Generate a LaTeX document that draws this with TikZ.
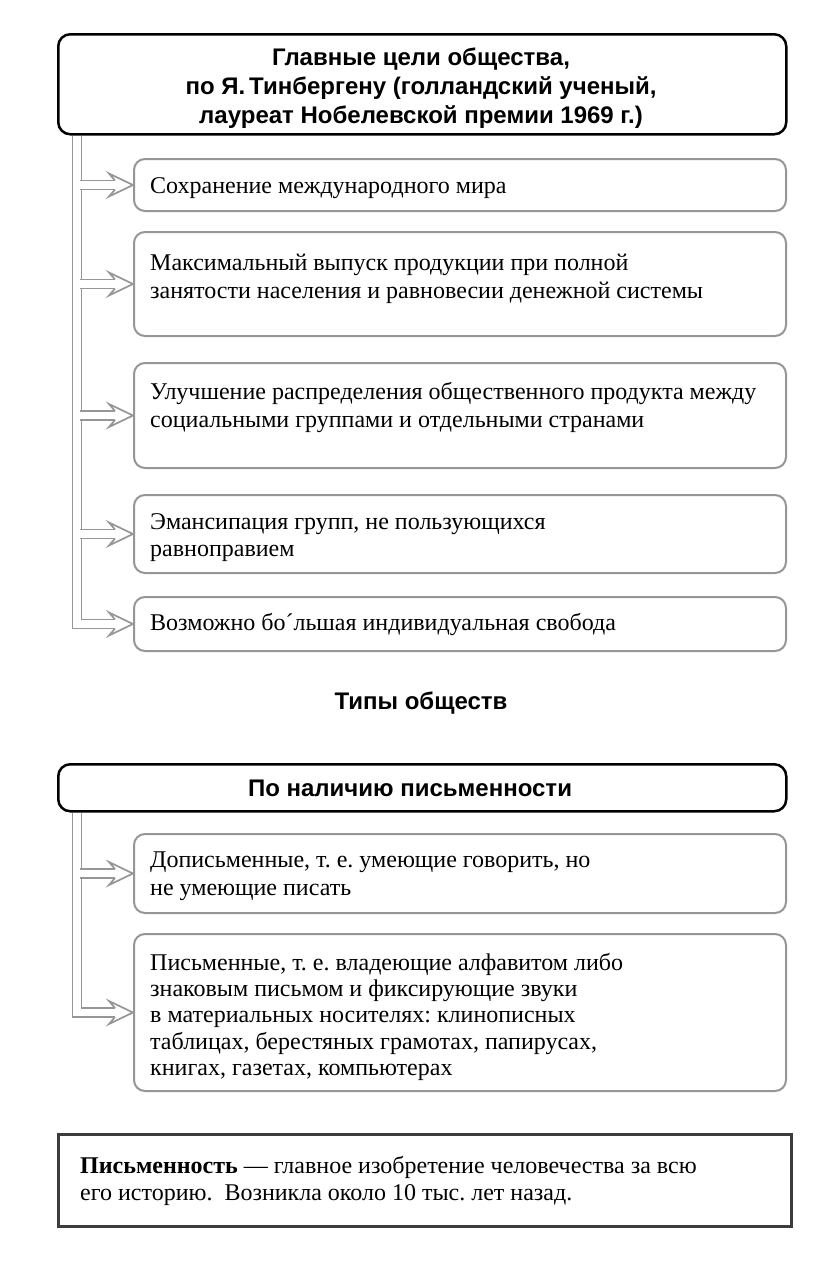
\documentclass[tikz,border=0pt]{standalone}
\usepackage{fontspec}
\setmainfont{Liberation Serif}
\newfontfamily\hsans{Liberation Sans}
\usetikzlibrary{backgrounds}
\frenchspacing
\definecolor{boxgray}{RGB}{150,150,150}
\definecolor{lgray}{RGB}{150,150,150}
\definecolor{dgray}{RGB}{60,60,60}
\tikzset{
  hbox/.style={draw=black, line width=2.5, rounded corners=12, fill=white, inner sep=0, anchor=north west},
  ibox/.style={draw=boxgray, line width=2, rounded corners=11, fill=white, inner sep=0, anchor=north west},
  nbox/.style={draw=dgray, line width=3, fill=white, inner sep=0, anchor=north west},
  htxt/.style={inner sep=0, align=center, font=\hsans\bfseries\fontsize{24}{29}\selectfont},
  itxt/.style={inner sep=0, align=left, anchor=north west, font=\fontsize{24}{28}\selectfont},
  dbl/.style={draw=lgray, line width=1.7, double=white, double distance=7.3},
  headline/.style={draw=lgray, line width=1.7, line join=miter},
}
\newcommand\arrowhead[1]{%
  \fill[white] (#1) ++(-18,-4.5) -- ++(-6,-7) -- (#1) -- ++(-24,11.5) -- ++(6,-7) -- cycle;
  \draw[headline] (#1) ++(-18,-4.5) -- ++(-6,-7) -- (#1) -- ++(-24,11.5) -- ++(6,-7);
}
\begin{document}
\begin{tikzpicture}[x=1pt,y=-1pt]
\useasboundingbox (0,0) rectangle (816,1269);

% ---- section 1
\node[hbox, minimum width=728, minimum height=100] (top) at (57,33) {};
\node[htxt] (toptxt) at (421,88) {Главные цели общества,\\по Я.\,Тинбергену (голландский ученый,\\лауреат Нобелевской премии 1969 г.)};

\node[ibox, minimum width=652, minimum height=52] (i1) at (133,158) {};
\node[ibox, minimum width=652, minimum height=104] (i2) at (133,231) {};
\node[ibox, minimum width=652, minimum height=105] (i3) at (133,362) {};
\node[ibox, minimum width=652, minimum height=78] (i4) at (133,494) {};
\node[ibox, minimum width=652, minimum height=54] (i5) at (133,596) {};

\node[itxt] (t1) at (150,173.4) {\strut Сохранение международного мира};
\node[itxt] (t2) at (150,250.4) {\strut Максимальный выпуск продукции при полной\\занятости населения и равновесии денежной системы};
\node[itxt] (t3) at (150,379.4) {\strut Улучшение распределения общественного продукта между\\социальными группами и отдельными странами};
\node[itxt, font=\fontsize{24}{27}\selectfont] (t4) at (150,510.1) {\strut Эмансипация групп, не пользующихся\\равноправием};
\node[itxt] (t5) at (150,610.4) {\strut Возможно бо´льшая индивидуальная свобода};

\coordinate (tr1) at ([xshift=20]top.south west);
\begin{scope}[on background layer]
  \draw[dbl, shorten >=18] (tr1) |- (i5.west);
  \foreach \n in {i1,i2,i3,i4}{
    \draw[dbl, shorten >=18] ([xshift=3]tr1 |- \n.west) -- (\n.west);
  }
  \foreach \n in {i1,i2,i3,i4,i5}{ \arrowhead{\n.west} }
\end{scope}

% ---- section 2
\node[htxt] (types) at (421,703) {Типы обществ};
\node[hbox, minimum width=728, minimum height=47] (h2) at (57,763) {};
\node[htxt] (h2txt) at (410,788) {По наличию письменности};

\node[ibox, minimum width=652, minimum height=79] (ia) at (133,833) {};
\node[ibox, minimum width=652, minimum height=157] (ib) at (133,933) {};

\node[itxt] (ta) at (150,847.4) {\strut Дописьменные, т. е. умеющие говорить, но\\не умеющие писать};
\node[itxt, font=\fontsize{24}{26.3}\selectfont] (tb) at (150,951.6) {\strut Письменные, т. е. владеющие алфавитом либо\\знаковым письмом и фиксирующие звуки\\в материальных носителях: клинописных\\таблицах, берестяных грамотах, папирусах,\\книгах, газетах, компьютерах};

\coordinate (tr2) at ([xshift=20]h2.south west);
\begin{scope}[on background layer]
  \draw[dbl, shorten >=18] (tr2) |- (ib.west);
  \draw[dbl, shorten >=18] ([xshift=3]tr2 |- ia.west) -- (ia.west);
  \foreach \n in {ia,ib}{ \arrowhead{\n.west} }
\end{scope}

% ---- note
\node[nbox, minimum width=733, minimum height=92] (note) at (57,1133) {};
\node[itxt, font=\fontsize{24}{27}\selectfont] (notetxt) at (80,1154.6) {\strut\textbf{Письменность} — главное изобретение человечества за всю\\его историю.\ \ Возникла около 10 тыс. лет назад.};
\end{tikzpicture}
\end{document}
